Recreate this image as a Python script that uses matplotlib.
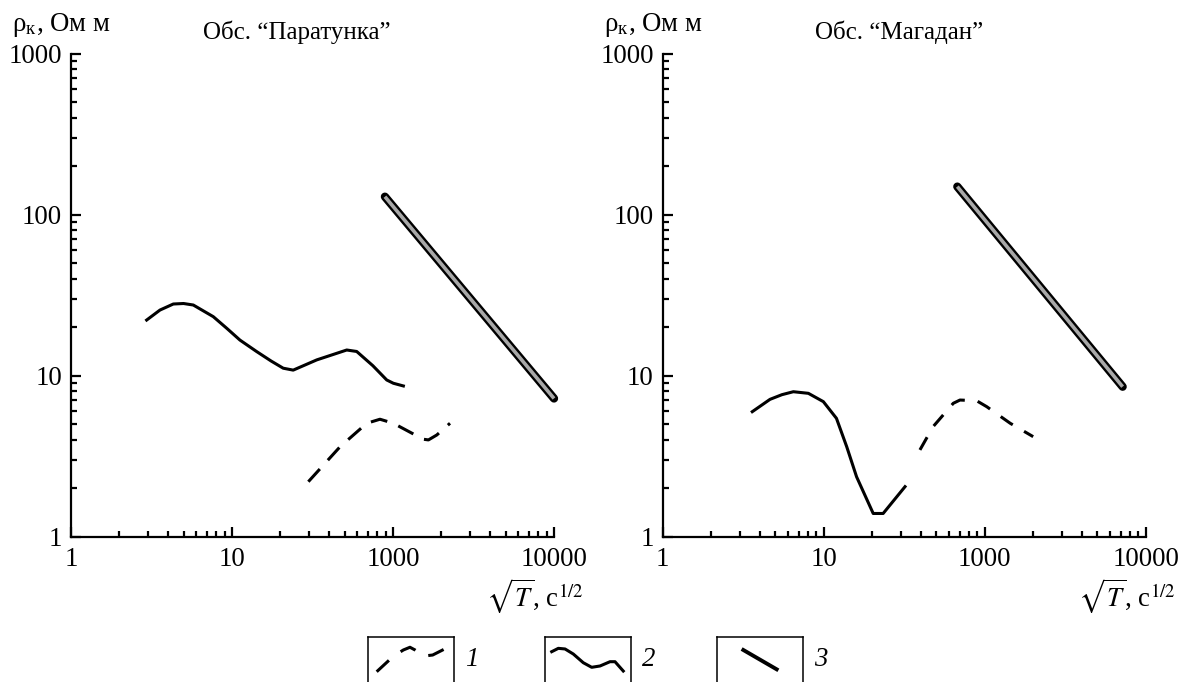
import matplotlib
matplotlib.use("Agg")
import matplotlib.pyplot as plt
from matplotlib.ticker import FixedLocator, FixedFormatter, LogLocator, NullFormatter

plt.rcParams['font.family'] = ['Liberation Serif', 'DejaVu Serif']
plt.rcParams['mathtext.fontset'] = 'stix'
plt.rcParams['lines.scale_dashes'] = False

# ---- data ----------------------------------------------------------------
# Paratunka observatory
par_solid_x = [2.95, 3.57, 4.32, 5.0, 5.75, 7.65, 9.3, 11.2, 14.2, 17.5, 20.8, 24.0, 33.6, 51.6, 59.5, 75.0, 91.4, 100.5, 116]
par_solid_y = [22.1, 25.5, 27.8, 28.0, 27.4, 23.2, 19.6, 16.6, 14.1, 12.3, 11.1, 10.8, 12.5, 14.4, 14.1, 11.5, 9.38, 8.95, 8.61]
par_dash_x = [29.8, 46.9, 68.7, 83.0, 100.5, 154, 166, 187, 226]
par_dash_y = [2.19, 3.61, 5.05, 5.35, 5.05, 4.02, 3.98, 4.27, 5.05]
par_band_x = [89.1, 1000]
par_band_y = [129, 7.2]

# Magadan observatory
mag_solid_x = [3.60, 4.64, 5.5, 6.48, 8.03, 9.95, 12.0, 13.9, 16.0, 20.3, 23.4, 32.0]
mag_solid_y = [5.96, 7.11, 7.6, 7.93, 7.75, 6.88, 5.42, 3.61, 2.35, 1.39, 1.39, 2.04]
mag_dash_x = [39.6, 47.8, 63.8, 70.2, 89.1, 103, 144, 200]
mag_dash_y = [3.45, 4.81, 6.72, 7.04, 6.97, 6.40, 5.05, 4.17]
mag_band_x = [67.6, 719]
mag_band_y = [149, 8.52]

x_ticks = [1, 10, 100, 1000]
x_tick_labels = ["1", "10", "1000", "10000"]
y_ticks = [1, 10, 100, 1000]
y_tick_labels = ["1", "10", "100", "1000"]

titles = ["Обс. \u201cПаратунка\u201d", "Обс. \u201cМагадан\u201d"]
ylabel = "ρ$_\\mathregular{к}$, Ом м"
xlabel = "$\\sqrt{T}$, с$^{1/2}$"
legend_labels = ["1", "2", "3"]

FS = 19.3
FS_TITLE = 18.0
LW = 2.2
BAND_GRAY = "#a8a8a8"

fig = plt.figure(figsize=(11.84, 6.82), dpi=100)
W, H = 1184.0, 682.0
ax_w, ax_h = 483 / W, 483 / H
bottom = (H - 536.5) / H
ax1 = fig.add_axes([71 / W, bottom, ax_w, ax_h])
ax2 = fig.add_axes([662.7 / W, bottom, ax_w, ax_h])


def style_axes(ax, title, title_x):
    ax.set_xscale('log')
    ax.set_yscale('log')
    ax.set_xlim(1, 1000)
    ax.set_ylim(1, 1000)
    for s in ('top', 'right'):
        ax.spines[s].set_visible(False)
    for s in ('left', 'bottom'):
        ax.spines[s].set_linewidth(1.6)
    ax.xaxis.set_major_locator(FixedLocator(x_ticks))
    ax.xaxis.set_major_formatter(FixedFormatter(x_tick_labels))
    ax.yaxis.set_major_locator(FixedLocator(y_ticks))
    ax.yaxis.set_major_formatter(FixedFormatter(y_tick_labels))
    for axis in (ax.xaxis, ax.yaxis):
        axis.set_minor_locator(LogLocator(base=10, subs=range(2, 10)))
        axis.set_minor_formatter(NullFormatter())
    ax.tick_params(which='major', direction='in', length=7.5, width=1.6,
                   labelsize=FS)
    ax.tick_params(which='minor', direction='in', length=4.3, width=1.6)
    ax.tick_params(axis='x', which='major', pad=7.5)
    ax.tick_params(axis='y', which='major', pad=6.5)
    ax.text(title_x, 1.0445, title, transform=ax.transAxes, ha='center',
            va='center', fontsize=FS_TITLE)
    ax.text(-0.122, 1.059, ylabel, transform=ax.transAxes, ha='left',
            va='center', fontsize=FS)
    ax.text(1.062, -0.123, xlabel, transform=ax.transAxes, ha='right',
            va='center', fontsize=FS)


def draw_band(ax, x, y):
    ax.plot(x, y, color='black', lw=6.0, solid_capstyle='round',
            clip_on=False)
    ax.plot(x, y, color=BAND_GRAY, lw=2.6, solid_capstyle='butt',
            clip_on=False)


style_axes(ax1, titles[0], 0.468)
style_axes(ax2, titles[1], 0.489)

ax1.plot(par_solid_x, par_solid_y, color='black', lw=LW, solid_joinstyle='round')
ax1.plot(par_dash_x, par_dash_y, color='black', lw=LW, linestyle=(0, (12.3, 8.6)))
draw_band(ax1, par_band_x, par_band_y)

ax2.plot(mag_solid_x, mag_solid_y, color='black', lw=LW, solid_joinstyle='round')
ax2.plot(mag_dash_x, mag_dash_y, color='black', lw=LW, linestyle=(0, (10.5, 9.4)))
draw_band(ax2, mag_band_x, mag_band_y)

# ---- legend boxes at the bottom -------------------------------------------
box_left = [368, 545, 717]
box_w = 86
box_top, box_bot = 637, 700

sample1_x = [0.101, 0.248, 0.337, 0.411, 0.488, 0.547, 0.651, 0.752, 0.884]
sample1_y = [0.449, 0.635, 0.730, 0.794, 0.837, 0.794, 0.698, 0.714, 0.805]
sample2_x = [0.078, 0.155, 0.233, 0.329, 0.445, 0.543, 0.640, 0.756, 0.814, 0.910]
sample2_y = [0.767, 0.820, 0.810, 0.730, 0.592, 0.519, 0.540, 0.608, 0.608, 0.460]
sample3_x = [0.306, 0.694]
sample3_y = [0.794, 0.487]

for i, left in enumerate(box_left):
    bax = fig.add_axes([left / W, (H - box_bot) / H, box_w / W,
                        (box_bot - box_top) / H])
    bax.set_xlim(0, 1)
    bax.set_ylim(0, 1)
    bax.set_xticks([])
    bax.set_yticks([])
    for s in bax.spines.values():
        s.set_linewidth(1.1)
    if i == 0:
        bax.plot(sample1_x, sample1_y, color='black', lw=LW,
                 linestyle=(0, (12, 10.5)))
    elif i == 1:
        bax.plot(sample2_x, sample2_y, color='black', lw=LW,
                 solid_joinstyle='round')
    else:
        bax.plot(sample3_x, sample3_y, color='black', lw=2.8)
    fig.text((left + box_w + 18) / W, (H - 660) / H, legend_labels[i],
             fontsize=FS, style='italic', ha='center', va='center')

fig.savefig("out.png", dpi=100)
